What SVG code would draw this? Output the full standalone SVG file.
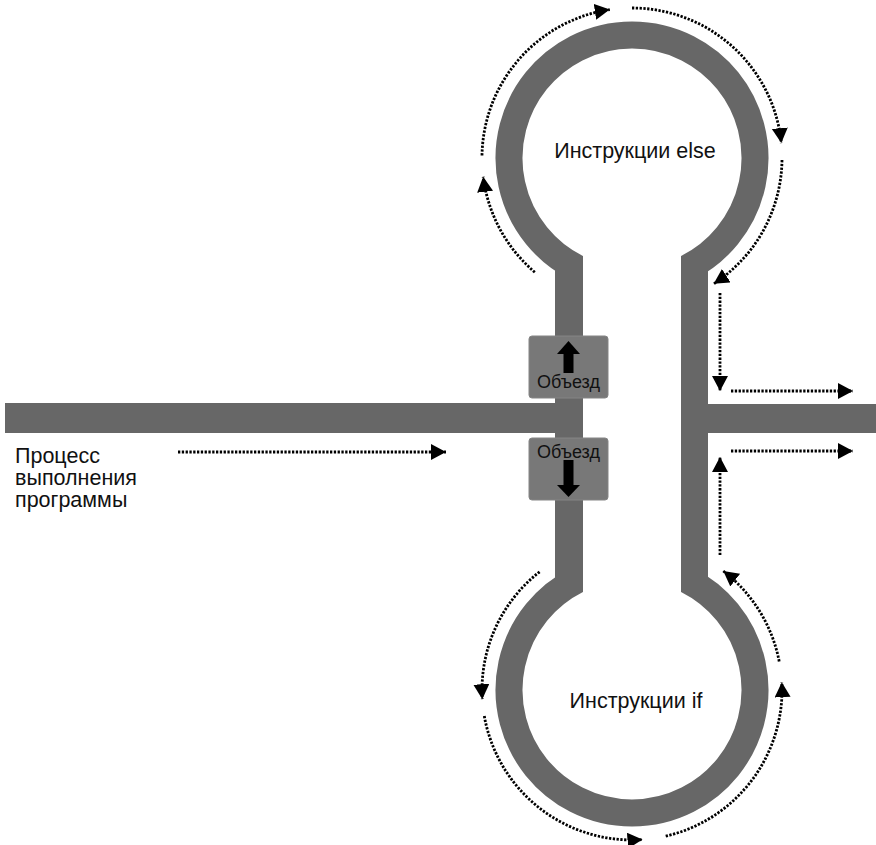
<svg xmlns="http://www.w3.org/2000/svg" width="876" height="845" viewBox="0 0 876 845">
<style>
.road{fill:#676767;}
.ring{fill:none;stroke:#676767;stroke-width:27;}
.box{fill:#787878;stroke:#858585;stroke-width:1;}
.lbl{font-family:"Liberation Sans",Arial,sans-serif;fill:#111;}
.flow{fill:none;stroke:#000;stroke-width:2.8;stroke-dasharray:2.3 1.5;marker-end:url(#ah);}
</style>
<defs>
<marker id="ah" markerUnits="userSpaceOnUse" markerWidth="18" markerHeight="18" refX="15" refY="8" orient="auto" viewBox="0 0 18 18">
<path d="M0,0 L15,8 L0,16 z" fill="#000"/>
</marker>
</defs>
<rect width="876" height="845" fill="#fff"/>
<g id="roads">
<path class="ring" d="M576.9,268 A123,123 0 1 1 687.1,268"/>
<path class="ring" d="M576.9,580 A123,123 0 1 0 687.1,580"/>
<rect class="road" x="555" y="256" width="28" height="336"/>
<rect class="road" x="681" y="256" width="27" height="336"/>
<rect class="road" x="5" y="403" width="560" height="30"/>
<rect class="road" x="700" y="404" width="176" height="29"/>
</g>
<g id="else-block">
<text class="lbl" x="635" y="158" font-size="21.5" text-anchor="middle">Инструкции else</text>
</g>
<g id="if-block">
<text class="lbl" x="636" y="708" font-size="21.5" text-anchor="middle">Инструкции if</text>
</g>
<g id="process-label">
<text class="lbl" font-size="21.5"><tspan x="15" y="463">Процесс</tspan><tspan x="15" y="485">выполнения</tspan><tspan x="15" y="507">программы</tspan></text>
</g>
<g id="detour-up">
<rect class="box" x="529" y="336" width="79" height="62" rx="3"/>
<rect x="563.5" y="352" width="10" height="21" fill="#000"/>
<path d="M557,354 L568.5,341 L580,354 z" fill="#000"/>
<text class="lbl" x="568.5" y="388" font-size="18" text-anchor="middle">Объезд</text>
</g>
<g id="detour-down">
<rect class="box" x="529" y="438" width="79" height="62" rx="3"/>
<text class="lbl" x="568.5" y="458" font-size="18" text-anchor="middle">Объезд</text>
<rect x="563.5" y="460" width="10" height="26" fill="#000"/>
<path d="M557,485 L580,485 L568.5,497 z" fill="#000"/>
</g>
<g id="connectors">
<path class="flow" d="M178,452 L446,452"/>
<path class="flow" d="M731,391 L853,391"/>
<path class="flow" d="M731,451 L853,451"/>
<path class="flow" d="M720,293 L720,391"/>
<path class="flow" d="M720,555 L720,457"/>
<path class="flow" d="M534.8,272.2 A150,150 0 0 1 483.2,176.8"/>
<path class="flow" d="M482,155.4 A150,150 0 0 1 609.8,9.6"/>
<path class="flow" d="M632,8 A150,150 0 0 1 781.3,143.1"/>
<path class="flow" d="M782,160.1 A150,150 0 0 1 713.7,283.8"/>
<path class="flow" d="M539.6,571.8 A150,150 0 0 0 482.3,699.2"/>
<path class="flow" d="M484.3,716 A150,150 0 0 0 642.5,839.6"/>
<path class="flow" d="M665.7,836.2 A150,150 0 0 0 781.8,682.2"/>
<path class="flow" d="M779.2,661.4 A150,150 0 0 0 723.3,571"/>
</g>
</svg>
